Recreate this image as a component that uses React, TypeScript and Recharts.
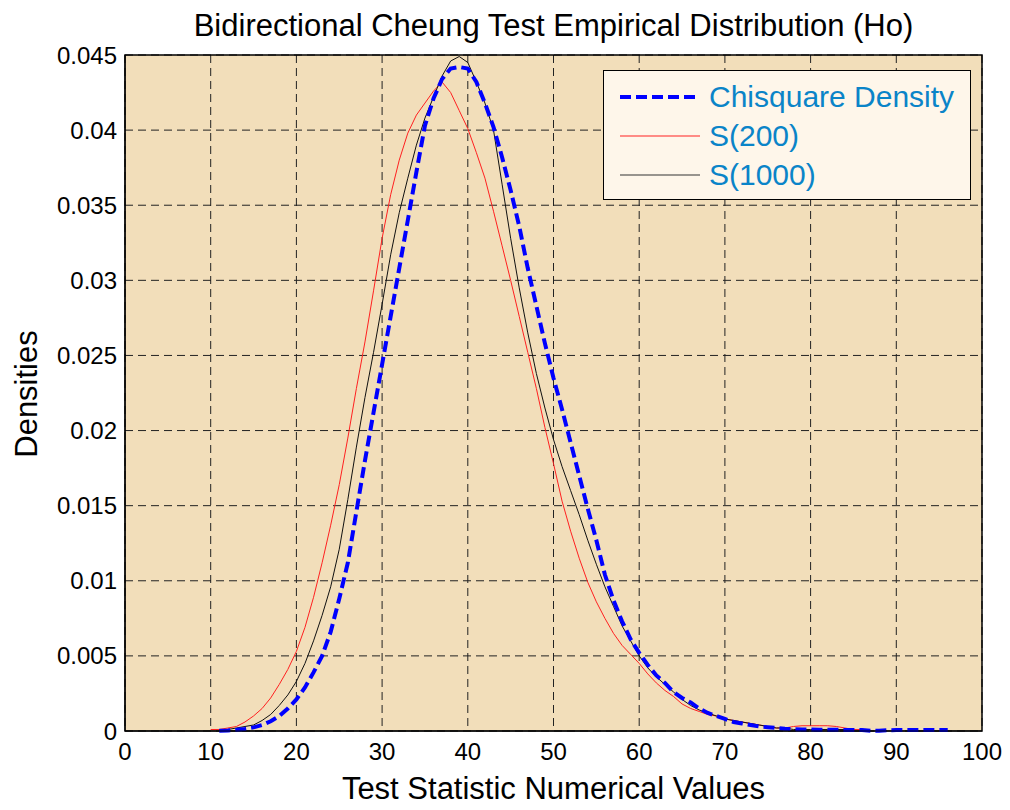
import {
  LineChart,
  Line,
  XAxis,
  YAxis,
  CartesianGrid,
  ReferenceArea,
} from 'recharts';

// test statistic values, 10 .. 96
const xValues = [
  10, 11, 12, 13, 14, 15, 16, 17, 18, 19,
  20, 21, 22, 23, 24, 25, 26, 27, 28, 29,
  30, 31, 32, 33, 34, 35, 36, 37, 38, 39,
  40, 41, 42, 43, 44, 45, 46, 47, 48, 49,
  50, 51, 52, 53, 54, 55, 56, 57, 58, 59,
  60, 61, 62, 63, 64, 65, 66, 67, 68, 69,
  70, 71, 72, 73, 74, 75, 76, 77, 78, 79,
  80, 81, 82, 83, 84, 85, 86, 87, 88, 89,
  90, 91, 92, 93, 94, 95, 96,
];

const chisquareDensity = [
  null, 0.00002, 0.00004, 0.00008, 0.00014, 0.00024, 0.0004, 0.00065, 0.001, 0.0015,
  0.0021, 0.0029, 0.0039, 0.005, 0.0066, 0.0088, 0.0112, 0.0146, 0.018, 0.0212,
  0.0244, 0.0276, 0.0308, 0.034, 0.0372, 0.0403, 0.0421, 0.0434, 0.0441, 0.0442,
  0.0441, 0.0432, 0.0418, 0.0402, 0.0382, 0.036, 0.0336, 0.0308, 0.0283, 0.0258,
  0.0235, 0.0214, 0.0192, 0.017, 0.0148, 0.0127, 0.0104, 0.0087, 0.0073, 0.0061,
  0.0052, 0.0044, 0.0037, 0.0032, 0.0026, 0.0022, 0.0019, 0.0015, 0.0012, 0.001,
  0.0008, 0.0006, 0.0005, 0.0004, 0.0003, 0.00025, 0.0002, 0.00015, 0.00012, 0.0001,
  0.0001, 0.00009, 0.00008, 0.00008, 0.00007, 0.00007, 0.00006, 0.00002, 0.00001, 0.00005,
  0.00006, 0.00006, 0.00006, 0.00006, 0.00006, 0.00006, 0.00006,
];

const s200 = [
  0.0001, 0.0001, 0.0002, 0.0003, 0.0006, 0.001, 0.0015, 0.0022, 0.0031, 0.0041,
  0.0053, 0.0069, 0.0089, 0.0112, 0.0137, 0.0164, 0.0195, 0.0228, 0.0259, 0.0293,
  0.0328, 0.0357, 0.038, 0.0398, 0.041, 0.0418, 0.0426, 0.0432, 0.0425, 0.0413,
  0.0401, 0.0385, 0.0368, 0.0346, 0.0323, 0.03, 0.0276, 0.0252, 0.0228, 0.0202,
  0.0178, 0.0153, 0.0133, 0.0115, 0.0099, 0.0086, 0.0075, 0.0065, 0.0057, 0.0051,
  0.0045, 0.0038, 0.0032, 0.0027, 0.0023, 0.0018, 0.0015, 0.0013, 0.0011, 0.001,
  0.0008, 0.0007, 0.0006, 0.0005, 0.0004, 0.0003, 0.0002, 0.0002, 0.0003, 0.00035,
  0.00035, 0.00035, 0.00035, 0.0003, 0.0002, 0.0001, 0.0001, null, null, null,
  null, null, null, null, null, null, null,
];

const s1000 = [
  null, 0.0001, 0.0001, 0.0002, 0.0003, 0.0004, 0.0007, 0.0011, 0.0017, 0.0024,
  0.0033, 0.0045, 0.006, 0.0077, 0.0096, 0.0121, 0.0154, 0.0189, 0.0222, 0.0252,
  0.0284, 0.0317, 0.0345, 0.0368, 0.039, 0.0408, 0.0422, 0.0436, 0.0446, 0.0449,
  0.0445, 0.0432, 0.0418, 0.04, 0.0364, 0.0328, 0.0295, 0.0265, 0.0238, 0.0215,
  0.0194, 0.0176, 0.016, 0.0144, 0.0127, 0.0111, 0.0096, 0.0083, 0.007, 0.006,
  0.005, 0.0042, 0.0036, 0.0031, 0.0026, 0.0021, 0.0017, 0.0014, 0.0012, 0.001,
  0.0008, 0.0007, 0.0006, 0.0005, 0.0004, 0.0003, 0.0002, 0.0002, 0.0001, 0.0001,
  0.0001, 0.0001, 0.0001, 0.0001, 0.0001, 0.0001, null, null, null, null,
  null, null, null, null, null, null, null,
];

const xTicks = [0, 10, 20, 30, 40, 50, 60, 70, 80, 90, 100];
const yTicks = [0, 0.005, 0.01, 0.015, 0.02, 0.025, 0.03, 0.035, 0.04, 0.045];

const data = xValues.map((x, i) => ({
  x,
  chisq: chisquareDensity[i],
  s200: s200[i],
  s1000: s1000[i],
}));

const FONT = '"Liberation Sans", Arial, sans-serif';
const PLOT_BG = '#F2DEBA';

const legendItems = [
  { label: 'Chisquare Density', color: '#0000FF', width: 4, dash: '11 5' },
  { label: 'S(200)', color: '#FF2020', width: 1, dash: undefined },
  { label: 'S(1000)', color: '#333333', width: 1, dash: undefined },
];

function ChartLegend() {
  return (
    <div
      style={{
        position: 'absolute',
        left: 603,
        top: 70,
        width: 368,
        height: 130,
        background: '#FEF6EA',
        border: '1px solid #000',
        fontFamily: FONT,
        fontSize: 30,
        color: '#0A84C8',
        paddingTop: 6,
        boxSizing: 'border-box',
      }}
    >
      {legendItems.map((it) => (
        <div key={it.label} style={{ display: 'flex', alignItems: 'center', height: 39 }}>
          <svg width={84} height={20} style={{ marginLeft: 16 }}>
            <line
              x1={0}
              x2={80}
              y1={10}
              y2={10}
              stroke={it.color}
              strokeWidth={it.width}
              strokeDasharray={it.dash}
            />
          </svg>
          <span style={{ marginLeft: 5 }}>{it.label}</span>
        </div>
      ))}
    </div>
  );
}

export default function App() {
  return (
    <div style={{ position: 'absolute', left: 0, top: 0, width: 1010, height: 810, background: '#fff' }}>
      <LineChart
        width={1010}
        height={810}
        data={data}
        margin={{ top: 55, right: 28, bottom: 0, left: 0 }}
        style={{ fontFamily: FONT }}
      >
        <CartesianGrid
          stroke="#222"
          strokeDasharray="8 5"
          fill={PLOT_BG}
          fillOpacity={1}
        />
        <XAxis
          dataKey="x"
          type="number"
          domain={[0, 100]}
          ticks={xTicks}
          height={79}
          tickSize={0}
          tickMargin={12}
          tick={{ fill: '#000', fontSize: 24 }}
          axisLine={{ stroke: '#000' }}
        />
        <YAxis
          type="number"
          domain={[0, 0.045]}
          ticks={yTicks}
          width={125}
          tickSize={0}
          tickMargin={8}
          tick={{ fill: '#000', fontSize: 24 }}
          axisLine={{ stroke: '#000' }}
        />
        <ReferenceArea
          x1={0}
          x2={100}
          y1={0}
          y2={0.045}
          fill="none"
          fillOpacity={0}
          stroke="#000"
          strokeWidth={1.5}
        />
        <Line
          dataKey="s200"
          name="S(200)"
          stroke="#FF2020"
          strokeWidth={1}
          dot={false}
          isAnimationActive={false}
        />
        <Line
          dataKey="s1000"
          name="S(1000)"
          stroke="#111"
          strokeWidth={1}
          dot={false}
          isAnimationActive={false}
        />
        <Line
          dataKey="chisq"
          name="Chisquare Density"
          stroke="#0000FF"
          strokeWidth={4}
          strokeDasharray="11 5"
          dot={false}
          isAnimationActive={false}
        />
      </LineChart>
      <div
        style={{
          position: 'absolute',
          left: 0,
          width: 1107,
          top: 8,
          textAlign: 'center',
          fontFamily: FONT,
          fontSize: 31,
          color: '#000',
        }}
      >
        Bidirectional Cheung Test Empirical Distribution (Ho)
      </div>
      <div
        style={{
          position: 'absolute',
          left: 0,
          width: 1107,
          top: 771,
          textAlign: 'center',
          fontFamily: FONT,
          fontSize: 31,
          color: '#000',
        }}
      >
        Test Statistic Numerical Values
      </div>
      <div
        style={{
          position: 'absolute',
          left: 27,
          top: 394,
          transform: 'translate(-50%, -50%) rotate(-90deg)',
          fontFamily: FONT,
          fontSize: 31,
          color: '#000',
          whiteSpace: 'nowrap',
        }}
      >
        Densities
      </div>
      <ChartLegend />
    </div>
  );
}
